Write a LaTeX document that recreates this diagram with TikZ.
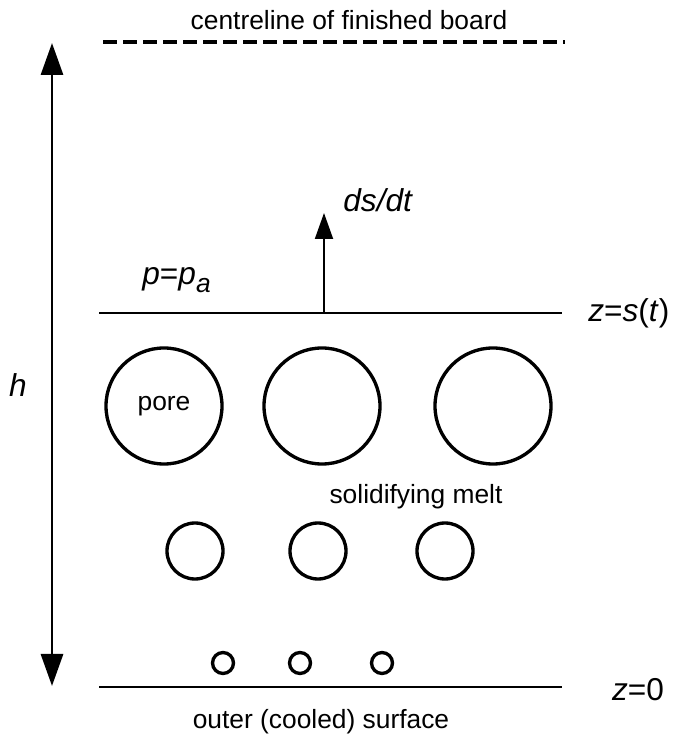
\documentclass[tikz,border=0pt]{standalone}
\usepackage{fontspec}
\setmainfont{Liberation Sans}
\usetikzlibrary{positioning,arrows.meta}

\begin{document}
\begin{tikzpicture}[
    font=\fontsize{15}{17}\selectfont,
    symb/.style={font=\fontsize{18}{21}\selectfont, inner sep=0pt},
    level/.style={line width=1.7pt},
    pore/.style={draw, circle, line width=1.9pt, inner sep=0pt},
    bigpore/.style={pore, minimum size=2.32cm},
    midpore/.style={pore, minimum size=1.12cm},
    smallpore/.style={pore, minimum size=0.42cm}
]
\useasboundingbox (0,0) rectangle (13.5,14.8);

% Centreline
\node (title) at (6.98,14.4) {centreline of finished board};
\coordinate (cl1) at (2.06,13.96);
\coordinate (cl2) at (11.3,13.96);
\draw[line width=2.8pt, dash pattern=on 0.27cm off 0.13cm] (cl1) -- (cl2);

% Thickness h
\coordinate (htop) at (1.04,13.94);
\coordinate (hbot) at (1.04,1.08);
\draw[line width=1.7pt, {Triangle[length=0.64cm,width=0.44cm]}-{Triangle[length=0.64cm,width=0.44cm]}] (hbot) -- (htop);
\node[symb] (h) at (0.36,7.1) {\textit{h}};

% Solidification front
\coordinate (s1) at (1.98,8.54);
\coordinate (s2) at (11.24,8.54);
\draw[level] (s1) -- (s2);
\node[symb, anchor=west] (slbl) at (11.76,8.54) {\textit{z}=\textit{s}(\textit{t})};
\node[symb, anchor=base west] (pa) at (2.84,9.1) {\textit{p}=\textit{p}{\fontsize{15}{17}\selectfont\raisebox{-0.55ex}{\textit{a}}}};
\coordinate (front) at (6.48,8.54);
\coordinate (fronttip) at (6.48,10.54);
\draw[line width=1.1pt, -{Triangle[length=0.52cm,width=0.36cm]}] (front) -- (fronttip);
\node[symb, anchor=base west] (dsdt) at (6.86,10.56) {\textit{ds/dt}};

% Pores
\node[bigpore] (p1) at (3.28,6.68) {pore};
\node[bigpore] (p2) at (6.44,6.68) {};
\node[bigpore] (p3) at (9.86,6.68) {};
\node (melt) at (8.32,4.86) {solidifying melt};
\node[midpore] (m1) at (3.9,3.78) {};
\node[midpore] (m2) at (6.36,3.78) {};
\node[midpore] (m3) at (8.9,3.78) {};
\node[smallpore] (t1) at (4.46,1.54) {};
\node[smallpore] (t2) at (6.0,1.54) {};
\node[smallpore] (t3) at (7.64,1.54) {};

% Outer surface
\coordinate (b1) at (1.98,1.06);
\coordinate (b2) at (11.24,1.06);
\draw[level] (b1) -- (b2);
\node[symb] (zlbl) at (12.76,1.0) {\textit{z}=0};
\node (outer) at (6.42,0.36) {outer (cooled) surface};

\end{tikzpicture}
\end{document}
